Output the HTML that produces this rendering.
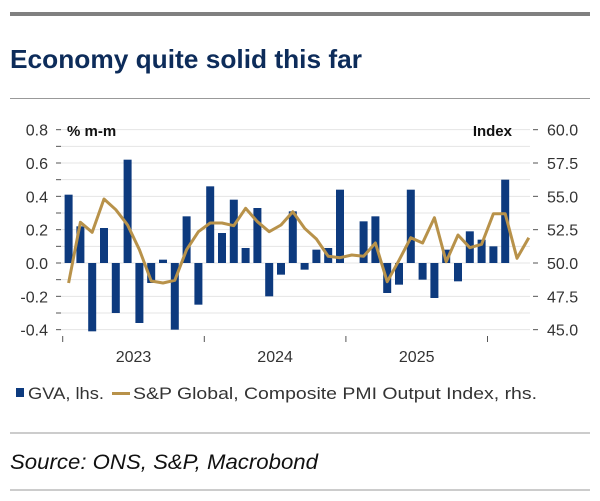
<!DOCTYPE html>
<html><head><meta charset="utf-8"><style>
body{margin:0;width:600px;height:496px;background:#fff;overflow:hidden;font-family:"Liberation Sans",sans-serif}
</style></head><body>
<svg width="600" height="496" viewBox="0 0 600 496">
<rect x="10" y="12" width="580" height="4" fill="#808080"/>
<text x="10" y="68" font-size="26" font-weight="bold" fill="#0d2c5a" textLength="352" lengthAdjust="spacingAndGlyphs">Economy quite solid this far</text>
<line x1="10" y1="98.5" x2="590" y2="98.5" stroke="#999"/>
<g id="grid"></g>
<g id="bars"></g>
<path id="pmi" fill="none" stroke="#b8924a" stroke-width="3" stroke-linejoin="round"/>
<g id="axes" font-size="16" fill="#333"></g>
<text x="67" y="136" font-size="15" font-weight="bold" fill="#111">% m-m</text>
<text x="512" y="136" font-size="15" font-weight="bold" fill="#111" text-anchor="end">Index</text>
<rect x="16" y="388" width="8" height="9" fill="#0d3a7e"/>
<text x="28" y="399" font-size="17" fill="#333" textLength="76" lengthAdjust="spacingAndGlyphs">GVA, lhs.</text>
<rect x="112" y="392" width="18" height="3" fill="#b8924a"/>
<text x="133" y="399" font-size="17" fill="#333" textLength="404" lengthAdjust="spacingAndGlyphs">S&amp;P Global, Composite PMI Output Index, rhs.</text>
<line x1="10" y1="433" x2="590" y2="433" stroke="#999"/>
<text x="10" y="469" font-size="21" font-style="italic" fill="#111" textLength="308" lengthAdjust="spacingAndGlyphs">Source: ONS, S&amp;P, Macrobond</text>
<line x1="10" y1="490" x2="590" y2="490" stroke="#999"/>
</svg>
<script>
const gva=[0.41,0.22,-0.41,0.21,-0.30,0.62,-0.36,-0.12,0.02,-0.40,0.28,-0.25,0.46,0.18,0.38,0.09,0.33,-0.20,-0.07,0.31,-0.04,0.08,0.09,0.44,0,0.25,0.28,-0.18,-0.13,0.44,-0.10,-0.21,0.08,-0.11,0.19,0.14,0.10,0.50];
const pmi=[48.5,53.05,52.3,54.8,54.0,52.85,51.0,48.65,48.5,48.7,51.0,52.35,53.0,53.0,52.8,54.1,53.1,52.35,52.85,53.85,52.6,51.8,50.5,50.4,50.6,50.5,51.5,48.6,50.2,51.9,51.5,53.4,50.1,52.1,51.15,51.4,53.7,53.7,50.35,51.9];
const leftTicks=["0.8","0.6","0.4","0.2","0.0","-0.2","-0.4"];
const rightTicks=["60.0","57.5","55.0","52.5","50.0","47.5","45.0"];
const years=["2023","2024","2025"];
const NS="http://www.w3.org/2000/svg";
const yL=v=>263-(v/0.2)*33.33;
const yR=v=>263-((v-50)/2.5)*33.33;
const x0=62.7,step=11.8;
const xm=i=>x0+(i+0.5)*step;
function mk(t,a,p){const e=document.createElementNS(NS,t);for(const k in a)e.setAttribute(k,a[k]);p.appendChild(e);return e;}
const grid=document.getElementById('grid'),bars=document.getElementById('bars'),axes=document.getElementById('axes');
for(let k=0;k<=12;k++){const v=0.8-k*0.1,y=yL(v);
 const g=mk('line',{x1:60,x2:530,y1:y,y2:y,stroke:'#e4e4e4','stroke-width':1},grid);
 
 
 const t=mk('line',{x1:56,x2:61,y1:y,y2:y,stroke:'#555'},axes);
 
 
}
leftTicks.forEach((s,i)=>{const y=yL(0.8-i*0.2);
 const t=mk('text',{x:48,y:y+6,'text-anchor':'end'},axes);t.textContent=s;
 
 
});
rightTicks.forEach((s,i)=>{const y=yR(60-i*2.5);
 const l=mk('line',{x1:533,x2:538,y1:y,y2:y,stroke:'#555'},axes);
 
 
 const t=mk('text',{x:547,y:y+6},axes);t.textContent=s;
 
 
});
for(let k=0;k<4;k++){const x=x0+k*12*step;
 const l=mk('line',{x1:x,x2:x,y1:336,y2:342,stroke:'#555'},axes);
 
 
}
years.forEach((s,k)=>{const t=mk('text',{x:x0+(k+0.5)*12*step,y:362,'text-anchor':'middle'},axes);t.textContent=s;
 
 
});
gva.forEach((v,i)=>{const y1=yL(Math.max(v,0)),y2=yL(Math.min(v,0));
 const r=mk('rect',{x:xm(i)-4,y:y1,width:8,height:Math.max(y2-y1,0),fill:'#0d3a7e'},bars);
 
 
});
document.getElementById('pmi').setAttribute('d',pmi.map((v,i)=>(i?'L':'M')+xm(i).toFixed(1)+','+yR(v).toFixed(1)).join(''));
</script>
</body></html>
